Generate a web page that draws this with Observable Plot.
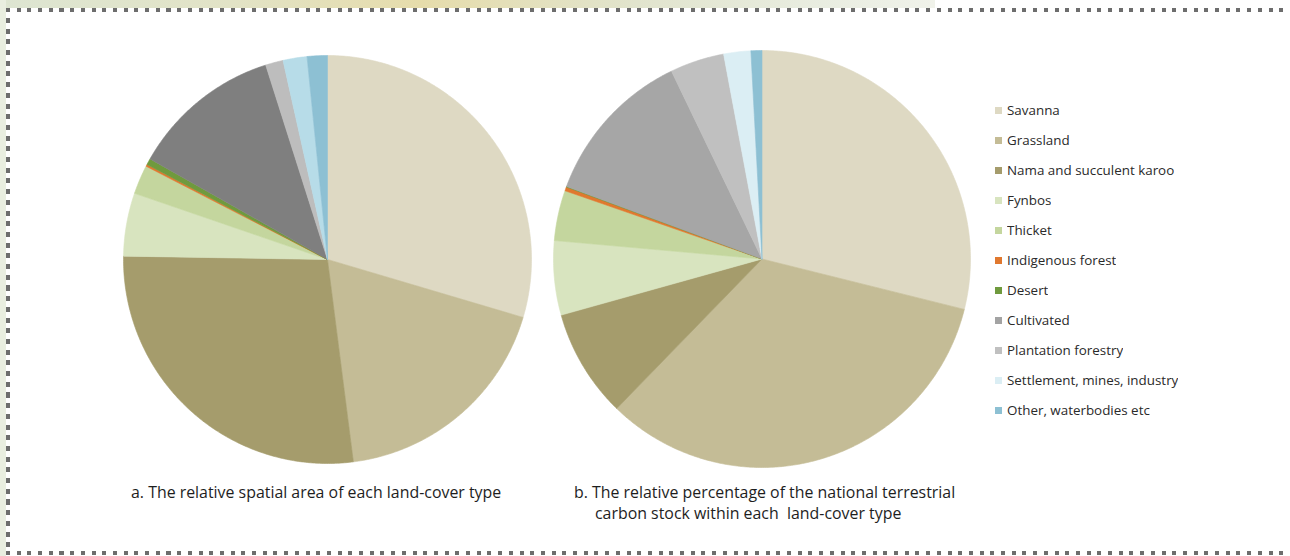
<!DOCTYPE html>
<html>
<head>
<meta charset="utf-8">
<script src="https://cdn.jsdelivr.net/npm/d3@7"></script>
<script src="https://cdn.jsdelivr.net/npm/@observablehq/plot@0.6"></script>
<style>
  html, body { margin: 0; padding: 0; background: #fff; }
  #frame { position: relative; width: 1290px; height: 556px; overflow: hidden; background: #fff; font-family: "Open Sans", sans-serif; }
  .strip-top { position: absolute; left: 0; top: 0; width: 935px; height: 8px;
    background: linear-gradient(90deg, #dde5d2 0%, #e2e3c6 25%, #e6dcab 45%, #e1e4cd 68%, #e9ede1 88%, #f0f2ea 100%); }
  .strip-left { position: absolute; left: 0; top: 0; width: 6px; height: 556px; background: #e9eee0; }
  .dash-top { position: absolute; left: 6px; top: 8px; width: 1284px; height: 4px;
    background: repeating-linear-gradient(90deg, #6d6d6d 0 4px, transparent 4px 10.7px); }
  .dash-bottom { position: absolute; left: 6px; top: 551px; width: 1284px; height: 4px;
    background: repeating-linear-gradient(90deg, #6d6d6d 0 4px, transparent 4px 10.7px); }
  .dash-left { position: absolute; left: 6px; top: 18px; width: 4px; height: 530px;
    background: repeating-linear-gradient(180deg, #6d6d6d 0 5px, transparent 5px 10.7px); }
  .pie { position: absolute; }
  .caption { position: absolute; font-family: "Open Sans", sans-serif; font-size: 15.9px; color: #1e1e1e; white-space: pre; line-height: 21px; }
  #legend { position: absolute; left: 995px; top: 95px; }
  .lg-swatches { font-family: "Open Sans", sans-serif !important; font-size: 13.4px !important; color: #2a2a2a !important; margin: 0 !important; min-height: 0 !important; }
  .lg-swatch { height: 30px !important; padding-bottom: 0 !important; }
  .lg-swatch svg { margin-right: 5px !important; }
</style>
</head>
<body>
<div id="frame">
  <div class="strip-top"></div>
  <div class="strip-left"></div>
  <div class="dash-top"></div>
  <div class="dash-left"></div>
  <div class="dash-bottom"></div>
  <div id="pieA" class="pie"></div>
  <div id="pieB" class="pie"></div>
  <div id="legend"></div>
  <div class="caption" id="capA"></div>
  <div class="caption" id="capB1"></div>
  <div class="caption" id="capB2"></div>
</div>
<script>
// ---- data ----
const categories = ["Savanna", "Grassland", "Nama and succulent karoo", "Fynbos", "Thicket",
  "Indigenous forest", "Desert", "Cultivated", "Plantation forestry",
  "Settlement, mines, industry", "Other, waterbodies etc"];
// a. relative spatial area (%)
const areaShare = [29.6, 18.4, 27.3, 5.0, 2.3, 0.15, 0.5, 11.9, 1.4, 1.9, 1.6];
// b. relative share of national terrestrial carbon stock (%)
const carbonShare = [28.9, 33.4, 8.4, 5.75, 3.9, 0.3, 0.05, 12.2, 4.2, 2.1, 0.85];

const colorsA = ["#ded9c3", "#c4bc96", "#a59c6c", "#d8e4bf", "#c4d69e", "#e0782f", "#6f9a3e", "#7f7f7f", "#bdbdbd", "#b7dce8", "#8dc0d3"];
const colorsB = ["#ded9c3", "#c4bc96", "#a59c6c", "#d8e4bf", "#c4d69e", "#e0782f", "#6f9a3e", "#a6a6a6", "#c0c0c0", "#dbeef4", "#8dc0d3"];
const legendColors = ["#ded9c3", "#c4bc96", "#a59c6c", "#d8e4bf", "#c4d69e", "#e0782f", "#6f9a3e", "#a3a3a3", "#c0c0c0", "#dbeef4", "#8dc0d3"];

const captionA = "a. The relative spatial area of each land-cover type";
const captionB = ["b. The relative percentage of the national terrestrial",
                  "carbon stock within each  land-cover type"];

// ---- pie geometry from values (clockwise from 12 o'clock) ----
function sliceRows(values, colors) {
  const total = d3.sum(values);
  const rows = [];
  let a0 = 0;
  values.forEach((v, i) => {
    const a1 = a0 + v / total * 2 * Math.PI;
    const n = Math.max(2, Math.ceil((a1 - a0) / (Math.PI / 360)));
    rows.push({k: categories[i], x: 0, y: 0, c: colors[i]});
    for (let j = 0; j <= n; j++) {
      const a = a0 + (a1 - a0) * j / n;
      rows.push({k: categories[i], x: Math.sin(a), y: Math.cos(a), c: colors[i]});
    }
    rows.push({k: categories[i], x: 0, y: 0, c: colors[i]});
    a0 = a1;
  });
  return rows;
}

function pie(values, colors, r) {
  const m = 2;
  return Plot.plot({
    width: 2 * r + 2 * m, height: 2 * r + 2 * m,
    margin: m,
    x: {domain: [-1, 1], axis: null},
    y: {domain: [-1, 1], axis: null},
    color: {type: "identity"},
    marks: [
      Plot.line(sliceRows(values, colors), {x: "x", y: "y", z: "k", fill: "c", stroke: "c", strokeWidth: 0.6, curve: "linear"})
    ]
  });
}

function place(id, el, cx, cy, r) {
  const box = document.getElementById(id);
  box.style.left = (cx - r - 2) + "px";
  box.style.top = (cy - r - 2) + "px";
  box.appendChild(el);
}

place("pieA", pie(areaShare, colorsA, 204), 327, 259, 204);
place("pieB", pie(carbonShare, colorsB, 208.5), 761.5, 258.5, 208.5);

// ---- legend ----
const leg = Plot.legend({
  color: {type: "ordinal", domain: categories, range: legendColors},
  legend: "swatches", columns: 1, swatchSize: 7, className: "lg"
});
document.getElementById("legend").appendChild(leg);

// ---- captions ----
function caption(id, text, left, top) {
  const el = document.getElementById(id);
  el.textContent = text; el.style.left = left + "px"; el.style.top = top + "px";
}
caption("capA", captionA, 131, 482);
caption("capB1", captionB[0], 574, 482);
caption("capB2", captionB[1], 595, 503);
</script>
</body>
</html>
